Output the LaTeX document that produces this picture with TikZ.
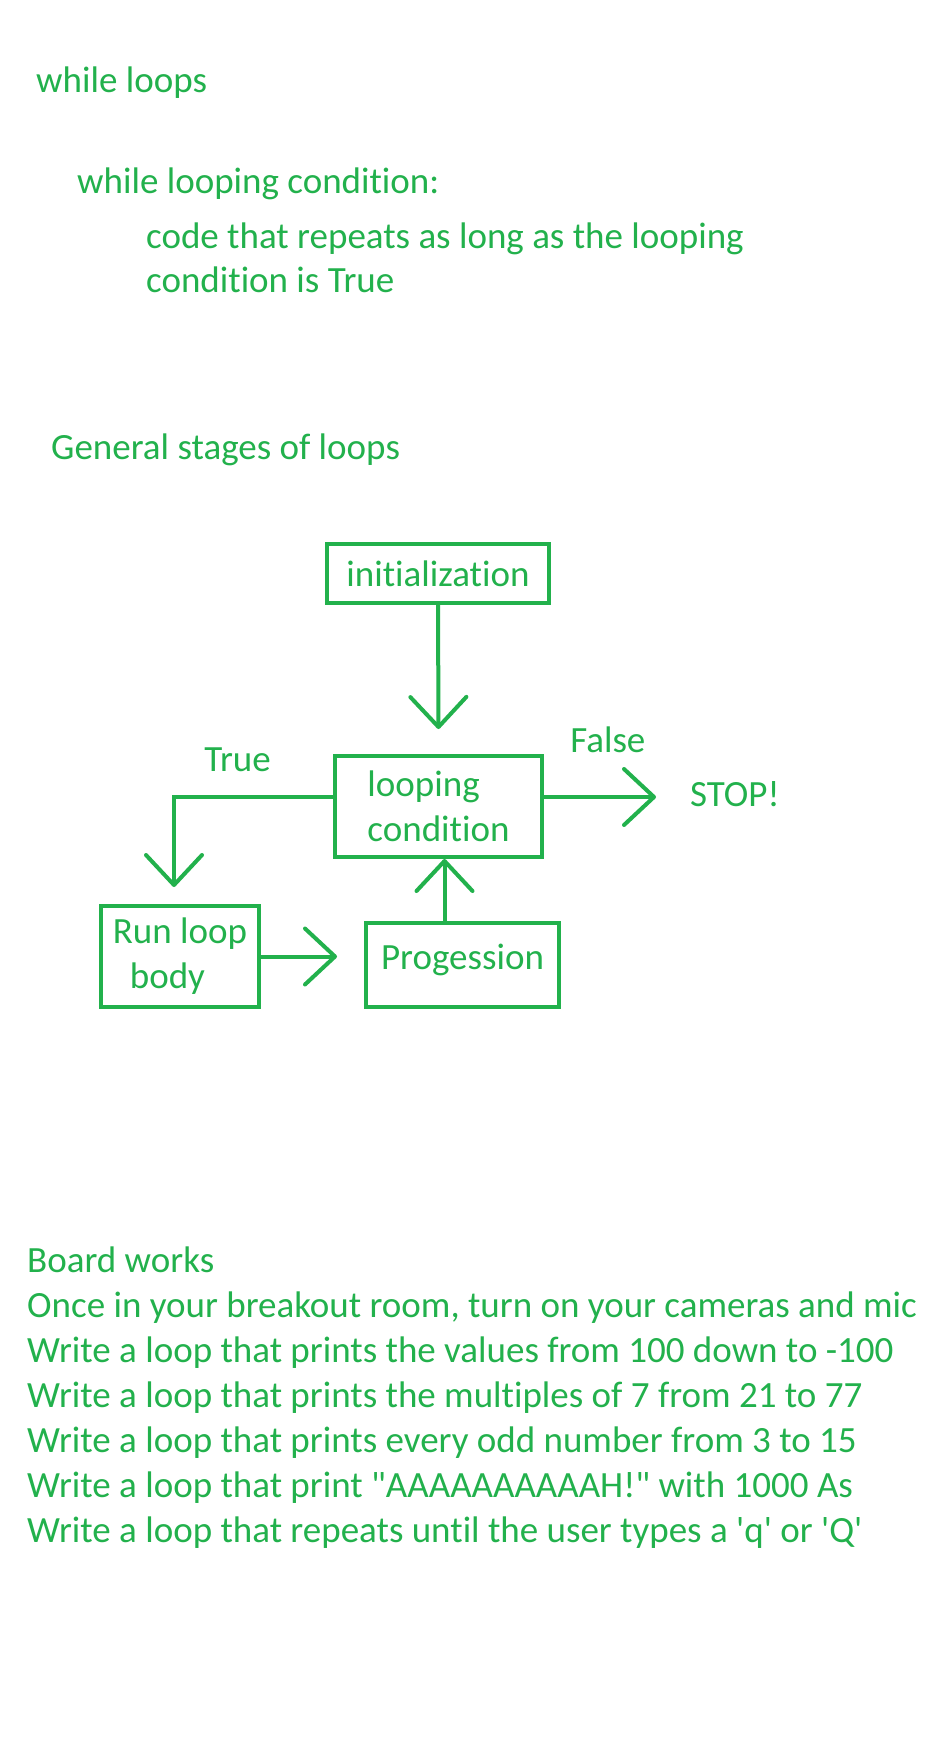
\documentclass[tikz,border=0pt]{standalone}
\usepackage{fontspec}
\setmainfont{Carlito}[Ligatures={TeX,NoCommon}]
\usepackage{xcolor}
\definecolor{paint_green}{HTML}{22B14C}
\usetikzlibrary{positioning,calc,arrows.meta}
\tikzset{TEXT/.style={text=paint_green, inner sep=0pt, anchor=base west, font=\fontsize{37}{45}\selectfont}}
\tikzset{LABEL/.style={text=paint_green, inner sep=0pt, font=\fontsize{37}{45}\selectfont}}
\tikzset{STAGE/.style={rectangle, draw=paint_green, line width=4pt, text=paint_green, align=left, inner sep=0pt, font=\fontsize{37}{45}\selectfont}}
\tikzset{ARROW/.style={draw=paint_green, line width=4pt, -{Straight Barb[length=30pt,width=56pt,round]}}}

\begin{document}
\begin{tikzpicture}[x=1pt,y=-1pt]

\useasboundingbox[fill=white] (0,0) rectangle (928,1744);

\node[TEXT] (n_title) at (36,93) {while loops};
\node[TEXT] (n_while) at (77,194) {while looping condition:};
\node[TEXT] (n_repeat1) at (146,248) {code that repeats as long as the looping};
\node[TEXT] (n_repeat2) at (146,292) {condition is True};

\node[TEXT] (n_stages) at (51,459) {General stages of loops};

\node[STAGE, minimum width=222pt, minimum height=59pt] (n_init) at (438,573.5) {initialization};
\node[STAGE, minimum width=207pt, minimum height=101pt] (n_cond) at (438.5,806.5) {looping\\condition};
\node[STAGE, minimum width=158pt, minimum height=101pt] (n_body) at (180,956.5) {Run loop\\\hspace*{17pt}body};
\node[STAGE, minimum width=193pt, minimum height=84pt, text depth=17pt] (n_prog) at (462.5,965) {Progession};
\node[LABEL, anchor=base west] (n_stop) at (690,806) {STOP!};

% init -> condition
\draw[ARROW] (n_init.south) -- ($(n_cond.north)+(0,-25)$);

% condition false -> stop
\coordinate (c_cond_false) at ($(n_cond.east)+(0,-9.5)$);
\draw[ARROW] (c_cond_false) -- ($(c_cond_false-|n_stop.west)+(-34,0)$) node[pos=0.57, LABEL, above=42pt]{False};

% condition true -> loop body
\coordinate (c_cond_true) at ($(n_cond.west)+(0,-9.5)$);
\draw[ARROW] (c_cond_true) -| ($(n_body.north)+(-6,-17)$) node[pos=0.3, LABEL, above=23pt]{True};

% loop body -> progression
\draw[ARROW] (n_body.east) -- ($(n_body.east-|n_prog.west)+(-27,0)$);

% progression -> condition
\coordinate (c_prog_up) at ($(n_prog.north)+(-18,0)$);
\draw[ARROW] (c_prog_up) -- (c_prog_up|-n_cond.south);

\node[TEXT] (n_board) at (27,1272) {Board works};
\node[TEXT] (n_task0) at (27,1317) {Once in your breakout room, turn on your cameras and mic};
\node[TEXT] (n_task1) at (27,1362) {Write a loop that prints the values from 100 down to -100};
\node[TEXT] (n_task2) at (27,1407) {Write a loop that prints the multiples of 7 from 21 to 77};
\node[TEXT] (n_task3) at (27,1452) {Write a loop that prints every odd number from 3 to 15};
\node[TEXT] (n_task4) at (27,1497) {Write a loop that print \textquotedbl AAAAAAAAAAH!\textquotedbl{} with 1000 As};
\node[TEXT] (n_task5) at (27,1542) {Write a loop that repeats until the user types a \textquotesingle q\textquotesingle{} or \textquotesingle Q\textquotesingle};

\end{tikzpicture}
\end{document}
